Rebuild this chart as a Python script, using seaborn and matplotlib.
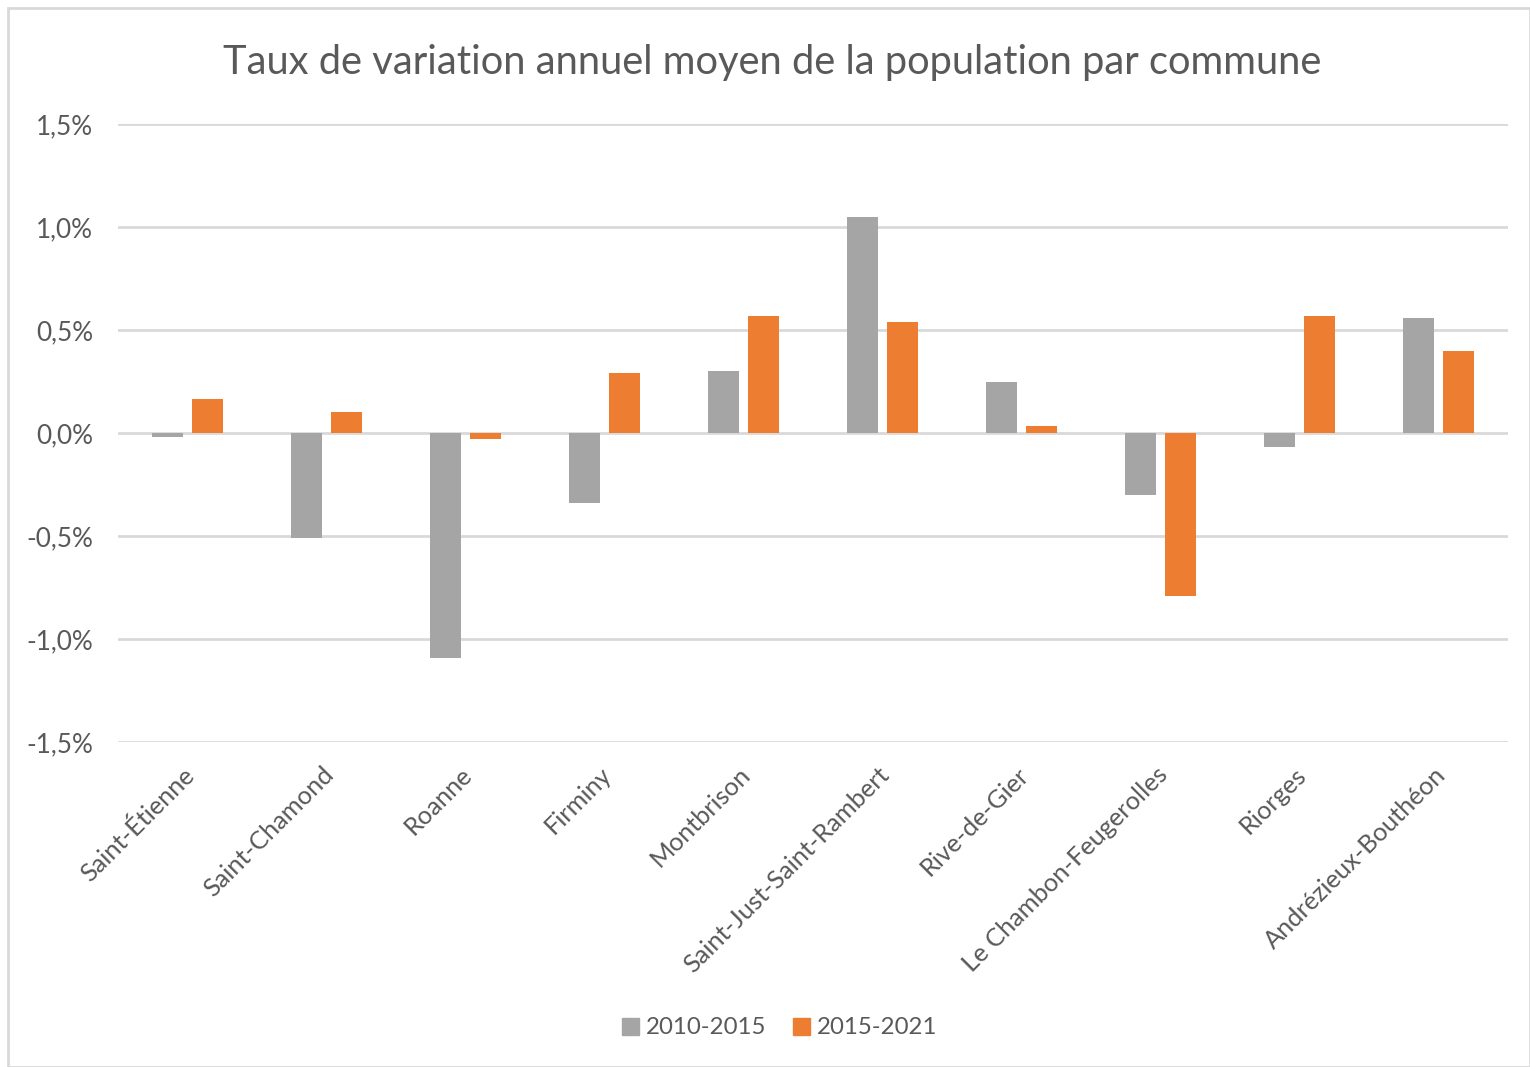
import matplotlib
matplotlib.use("Agg")
import matplotlib.pyplot as plt
import matplotlib.patches as mpatches
import matplotlib.transforms as mtransforms
import pandas as pd
import seaborn as sns

communes = ["Saint-Étienne", "Saint-Chamond", "Roanne", "Firminy", "Montbrison",
            "Saint-Just-Saint-Rambert", "Rive-de-Gier", "Le Chambon-Feugerolles",
            "Riorges", "Andrézieux-Bouthéon"]
taux_2010_2015 = [-0.02, -0.51, -1.09, -0.34, 0.30, 1.05, 0.25, -0.30, -0.07, 0.56]
taux_2015_2021 = [0.165, 0.10, -0.03, 0.29, 0.57, 0.54, 0.035, -0.79, 0.57, 0.40]
periodes = ["2010-2015", "2015-2021"]
yticks = [-1.5, -1.0, -0.5, 0.0, 0.5, 1.0, 1.5]

df = pd.DataFrame({
    "commune": communes * 2,
    "taux": taux_2010_2015 + taux_2015_2021,
    "periode": [periodes[0]] * len(communes) + [periodes[1]] * len(communes),
})

sns.set_style("white")
plt.rcParams["font.family"] = ["Lato", "DejaVu Sans"]
txt = "#595959"
grid_c = "#D9D9D9"
palette = {"2010-2015": "#A5A5A5", "2015-2021": "#ED7D31"}

fig = plt.figure(figsize=(15.3, 10.67), dpi=100)
ax = fig.add_axes([118 / 1530, 1 - 742 / 1067, 1390 / 1530, 618 / 1067])

sns.barplot(data=df, x="commune", y="taux", hue="periode", palette=palette,
            width=0.576, gap=0.225, saturation=1, linewidth=0,
            ax=ax, legend=False, zorder=3)

ax.set_ylim(-1.5, 1.5)
ax.set_xlim(-0.5, len(communes) - 0.5)
ax.set_yticks(yticks)
ax.set_yticklabels([f"{v:.1f}%".replace(".", ",") for v in yticks])
for y in yticks:
    ax.axhline(y, color=grid_c, lw=2, zorder=1)
for s in ax.spines.values():
    s.set_visible(False)
ax.set_xlabel("")
ax.set_ylabel("")
ax.tick_params(axis="y", length=0, pad=18, labelsize=18.8, labelcolor=txt)
ax.tick_params(axis="x", length=0, pad=15, labelsize=18.3, labelcolor=txt)
shift = mtransforms.ScaledTranslation(-5 / 100, 0, fig.dpi_scale_trans)
for lab in ax.get_xticklabels():
    lab.set_rotation(45)
    lab.set_ha("right")
    lab.set_va("top")
    lab.set_rotation_mode("anchor")
    lab.set_transform(lab.get_transform() + shift)

fig.text(0.505, 1 - 62 / 1067, "Taux de variation annuel moyen de la population par commune",
         ha="center", va="center", fontsize=28.7, color=txt)

handles = [mpatches.Patch(color=palette[p], label=p) for p in periodes]
fig.legend(handles=handles, loc="center", bbox_to_anchor=(780 / 1530, 1 - 1028 / 1067),
           ncol=2, frameon=False, fontsize=17.3, labelcolor=txt, handlelength=0.7,
           handleheight=0.7, handletextpad=0.3, columnspacing=1.1)

fig.patches.append(mpatches.Rectangle((8 / 1530, 0), 1 - 8 / 1530, 1 - 8 / 1067,
                                      transform=fig.transFigure, fill=False,
                                      edgecolor=grid_c, lw=2))

fig.savefig("out.png", dpi=100)
